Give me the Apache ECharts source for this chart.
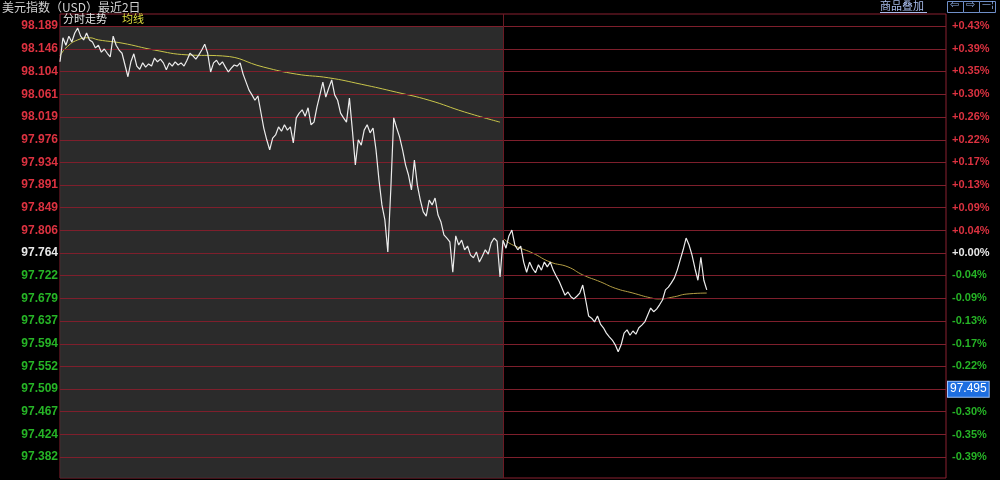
<!DOCTYPE html>
<html><head><meta charset="utf-8">
<script src="https://cdn.jsdelivr.net/npm/echarts@6/dist/echarts.min.js"></script>
<style>html,body{margin:0;padding:0;background:#000;}#c{width:1000px;height:480px;}</style>
</head><body><div id="c"></div>
<script>
// ---- data ----
const tickValues = [98.189, 98.146, 98.104, 98.061, 98.019, 97.976, 97.934, 97.891, 97.849, 97.806,
  97.764, 97.722, 97.679, 97.637, 97.594, 97.552, 97.509, 97.467, 97.424, 97.382];
const tickPercents = ['+0.43%', '+0.39%', '+0.35%', '+0.30%', '+0.26%', '+0.22%', '+0.17%', '+0.13%', '+0.09%', '+0.04%',
  '+0.00%', '-0.04%', '-0.09%', '-0.13%', '-0.17%', '-0.22%', '-0.26%', '-0.30%', '-0.35%', '-0.39%'];
const prevClose = 97.764;
const cursorRowValue = 97.509;
const cursorLabel = '97.495';
const slotsPerDay = 150;

const priceDay1 = [
  98.122, 98.167, 98.153, 98.170, 98.159, 98.176, 98.185, 98.170, 98.163, 98.176,
  98.163, 98.159, 98.148, 98.153, 98.140, 98.146, 98.138, 98.131, 98.170, 98.153,
  98.144, 98.138, 98.116, 98.094, 98.122, 98.137, 98.114, 98.108, 98.120, 98.112,
  98.118, 98.114, 98.129, 98.122, 98.127, 98.120, 98.107, 98.120, 98.114, 98.122,
  98.116, 98.120, 98.114, 98.125, 98.138, 98.133, 98.127, 98.135, 98.144, 98.155,
  98.138, 98.103, 98.120, 98.125, 98.116, 98.122, 98.112, 98.103, 98.110, 98.116,
  98.114, 98.120, 98.099, 98.084, 98.069, 98.060, 98.050, 98.058, 98.028, 97.998,
  97.976, 97.957, 97.979, 97.985, 98.000, 97.992, 98.004, 97.994, 98.000, 97.970,
  98.017, 98.026, 98.032, 98.020, 98.036, 98.004, 98.009, 98.037, 98.060, 98.084,
  98.056, 98.073, 98.088, 98.060, 98.050, 98.026, 98.017, 98.009, 98.054, 97.994,
  97.929, 97.976, 97.966, 97.994, 98.004, 97.989, 97.998, 97.957, 97.901, 97.854,
  97.826, 97.766, 97.882, 98.017, 97.998, 97.981, 97.957, 97.929, 97.910, 97.882,
  97.938, 97.891, 97.863, 97.841, 97.833, 97.863, 97.854, 97.867, 97.835, 97.822,
  97.798, 97.792, 97.785, 97.728, 97.796, 97.779, 97.788, 97.770, 97.777, 97.760,
  97.755, 97.766, 97.747, 97.758, 97.770, 97.762, 97.783, 97.792, 97.786, 97.719
];
const priceDay2 = [
  97.788, 97.773, 97.796, 97.807, 97.779, 97.770, 97.777, 97.747, 97.728, 97.747,
  97.735, 97.727, 97.742, 97.732, 97.747, 97.738, 97.747, 97.732, 97.721, 97.711,
  97.698, 97.685, 97.691, 97.682, 97.678, 97.683, 97.689, 97.704, 97.676, 97.646,
  97.642, 97.635, 97.646, 97.631, 97.624, 97.614, 97.607, 97.601, 97.592, 97.579,
  97.592, 97.614, 97.620, 97.610, 97.618, 97.612, 97.624, 97.629, 97.635, 97.648,
  97.661, 97.654, 97.659, 97.667, 97.676, 97.695, 97.700, 97.708, 97.717, 97.732,
  97.751, 97.770, 97.792, 97.779, 97.760, 97.735, 97.713, 97.756, 97.713, 97.695
];
const avgDay1Slots = [0, 2, 6, 10, 13, 21, 32, 43, 55, 69, 80, 91, 102, 114, 125, 137, 149];
const avgDay1 = [98.133, 98.148, 98.163, 98.167, 98.163, 98.157, 98.144, 98.135, 98.133, 98.112,
  98.099, 98.092, 98.080, 98.065, 98.050, 98.028, 98.009];
const avgDay2Slots = [150, 152, 155, 160, 166, 172, 177, 183, 188, 194, 200, 203, 208, 212, 219];
const avgDay2 = [97.792, 97.783, 97.775, 97.764, 97.747, 97.738, 97.723, 97.710, 97.698, 97.689,
  97.680, 97.678, 97.682, 97.687, 97.689];

// ---- build series data ----
const priceData = priceDay1.map((v, i) => [i, v]).concat(priceDay2.map((v, j) => [slotsPerDay + j, v]));
const avg1Data = avgDay1Slots.map((s, i) => [s, avgDay1[i]]);
const avg2Data = avgDay2Slots.map((s, i) => [s, avgDay2[i]]);

const RED = '#dc3240', GREEN = '#26b426', WHITE = '#e8e8e8';
function tickColor(v) { return v > prevClose + 1e-9 ? RED : (v < prevClose - 1e-9 ? GREEN : WHITE); }

const leftLines = tickValues.map(v => ({
  yAxis: v,
  lineStyle: { color: '#7e1f2c', width: 1, type: 'solid' },
  label: { show: true, position: 'start', distance: 2, formatter: v.toFixed(3), color: tickColor(v),
    fontFamily: 'Liberation Sans', fontWeight: 'bold', fontSize: 12 }
}));
leftLines.push({ xAxis: slotsPerDay, lineStyle: { color: '#6a1a24', width: 1, type: 'solid' }, label: { show: false } });

const rightLines = tickValues.map((v, i) => {
  const isCursor = Math.abs(v - cursorRowValue) < 1e-9;
  return {
    yAxis: v,
    lineStyle: { color: 'rgba(0,0,0,0)', width: 0 },
    label: isCursor ? {
      show: true, position: 'end', distance: 2, formatter: cursorLabel, color: '#ffffff',
      backgroundColor: '#1d6ee0', padding: [2, 2, 1, 2], borderColor: '#9cc4ff', borderWidth: 1,
      fontFamily: 'Liberation Sans', fontSize: 12
    } : {
      show: true, position: 'end', distance: 6, formatter: tickPercents[i], color: tickColor(v),
      fontFamily: 'Liberation Sans', fontWeight: 'bold', fontSize: 11
    }
  };
});

const yMin = 97.3427, yMax = 98.2115;

const chart = echarts.init(document.getElementById('c'), null, { renderer: 'canvas' });
chart.setOption({
  animation: false,
  backgroundColor: '#000000',
  grid: { left: 60, right: 54, top: 14, bottom: 2, show: true, borderColor: '#8a2030', borderWidth: 1, backgroundColor: 'transparent' },
  xAxis: { type: 'value', min: 0, max: slotsPerDay * 2, show: false },
  yAxis: { type: 'value', min: yMin, max: yMax, show: false },
  graphic: [
    { type: 'text', left: 2, top: 1, style: { text: '美元指数（USD）最近2日', fill: '#d2d2d2', font: '12px "Noto Sans CJK SC"' } },
    { type: 'text', left: 63, top: 13, style: { text: '分时走势', fill: '#e6e6e6', font: '11px "Noto Sans CJK SC"' } },
    { type: 'text', left: 122, top: 13, style: { text: '均线', fill: '#dede3c', font: '11px "Noto Sans CJK SC"' } },
    { type: 'text', left: 880, top: 0, style: { text: '商品叠加', fill: '#a8bcec', font: '11px "Noto Sans CJK SC"' } },
    { type: 'line', shape: { x1: 880, y1: 12.5, x2: 927, y2: 12.5 }, style: { stroke: '#a8bcec', lineWidth: 1 } },
    { type: 'rect', shape: { x: 947.5, y: 1.5, width: 16, height: 11 }, style: { fill: '#000', stroke: '#6f8fc8', lineWidth: 1 } },
    { type: 'rect', shape: { x: 963.5, y: 1.5, width: 16, height: 11 }, style: { fill: '#000', stroke: '#6f8fc8', lineWidth: 1 } },
    { type: 'rect', shape: { x: 979.5, y: 1.5, width: 16, height: 11 }, style: { fill: '#000', stroke: '#6f8fc8', lineWidth: 1 } },
    { type: 'text', left: 950, top: 0, style: { text: '⇦', fill: '#8fb0e8', font: '11px "DejaVu Sans"' } },
    { type: 'text', left: 966, top: 0, style: { text: '⇨', fill: '#8fb0e8', font: '11px "DejaVu Sans"' } },
    { type: 'text', left: 982, top: 0, style: { text: '—¦', fill: '#8fb0e8', font: '9px "DejaVu Sans"' } }
  ],
  series: [
    { name: 'grid', type: 'line', data: [], z: 1, silent: true,
      markLine: { silent: true, precision: 3, symbol: ['none', 'none'], animation: false, data: leftLines } },
    { name: 'day1bg', type: 'line', data: [], z: 2, silent: true,
      markArea: { silent: true, itemStyle: { color: 'rgb(50,50,50)', opacity: 0.85 },
        data: [[{ xAxis: 0, yAxis: tickValues[0] }, { xAxis: slotsPerDay, yAxis: yMin }]] } },
    { name: 'labelsRight', type: 'line', data: [], z: 3, silent: true,
      markLine: { silent: true, precision: 3, symbol: ['none', 'none'], animation: false, data: rightLines } },
    { name: '均线1', type: 'line', data: avg1Data, z: 4, smooth: true, showSymbol: false,
      lineStyle: { color: '#c9c54a', width: 1 } },
    { name: '均线2', type: 'line', data: avg2Data, z: 4, smooth: true, showSymbol: false,
      lineStyle: { color: '#b59f45', width: 1 } },
    { name: '分时', type: 'line', data: priceData, z: 5, showSymbol: false,
      lineStyle: { color: '#ececec', width: 1.2 } }
  ]
});
</script>
</body></html>
